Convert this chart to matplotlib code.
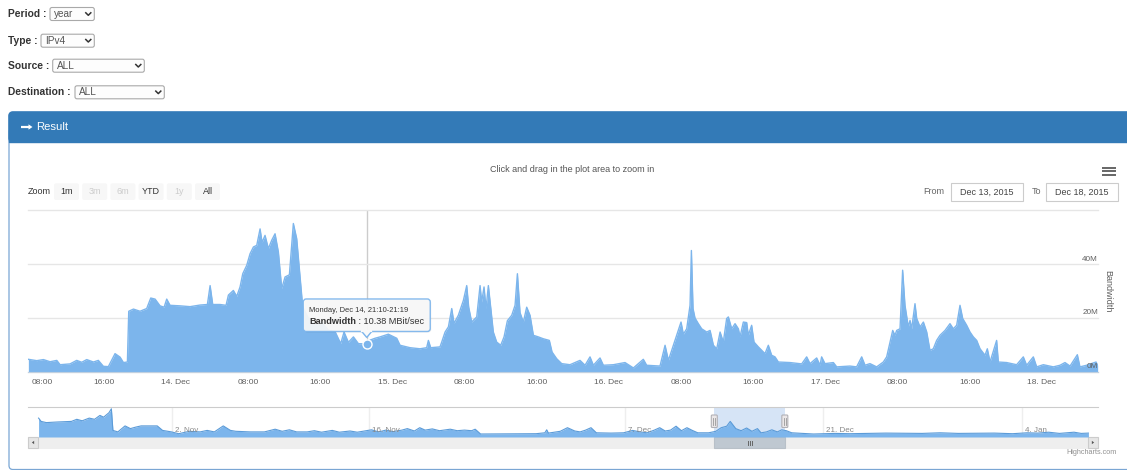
import numpy as np
import matplotlib.pyplot as plt
from matplotlib.patches import FancyBboxPatch, Rectangle, Polygon

plt.rcParams['font.family'] = ['Liberation Sans', 'DejaVu Sans']

# form fields above the result panel
form_labels = ['Period :', 'Type :', 'Source :', 'Destination :']
form_values = ['year', 'IPv4', 'ALL', 'ALL']

# range selector and date inputs
zoom_buttons = ['1m', '3m', '6m', 'YTD', '1y', 'All']
zoom_enabled = [True, False, False, True, False, True]
date_from = 'Dec 13, 2015'
date_to = 'Dec 18, 2015'

# bandwidth in MBit/s, sampled by hour of day
dec13_h = [7.65, 8.58, 9.32, 10.06, 10.8, 11.17, 12.27, 13.01, 13.57, 14.12,
           14.86, 15.41, 15.97, 16.52, 17.26, 17.82, 18.19, 18.56, 18.63, 18.78,
           19.3, 20.03, 20.77, 21.22, 21.7, 22.25, 22.7, 22.99, 23.36]
dec13_bw = [4.7, 4.2, 4.6, 3.8, 4.3, 2.7, 3.0, 4.3, 3.6, 4.6,
            3.7, 4.3, 2.1, 2.0, 6.8, 5.5, 3.5, 3.7, 3.7, 22.5,
            23.3, 22.5, 23.5, 27.4, 27.0, 24.5, 24.0, 27.0, 24.7]

dec14_h = [0.47, 1.58, 2.69, 3.5, 3.8, 4.09, 4.9, 5.57, 5.83, 6.38,
           6.75, 7.12, 7.42, 7.86, 8.23, 8.6, 8.97, 9.34, 9.56, 9.89,
           10.26, 10.63, 11.0, 11.37, 11.74, 12.11, 12.59, 13.03, 13.4, 13.7,
           14.07, 14.7, 15.44, 16.17, 16.91, 17.65, 18.28, 18.65, 19.13, 19.69,
           20.24, 21.17, 21.53, 22.09, 22.64, 23.56]
dec14_bw = [24.5, 24.2, 24.8, 25.0, 32.0, 25.0, 25.0, 24.7, 28.5, 30.2,
            28.0, 31.5, 36.4, 39.5, 43.8, 46.3, 46.9, 53.0, 48.0, 50.6,
            45.7, 48.8, 51.2, 44.4, 30.9, 35.2, 36.0, 55.0, 49.4, 38.0,
            24.0, 20.0, 17.5, 18.5, 15.5, 15.0, 10.5, 14.8, 11.0, 13.0,
            10.5, 10.38, 11.8, 12.5, 13.0, 14.0]

dec15_h = [0.49, 0.86, 1.97, 3.07, 3.81, 4.0, 4.26, 5.29, 5.48, 5.85,
           6.22, 6.59, 6.84, 7.32, 7.88, 8.25, 8.47, 8.8, 9.36, 9.73,
           9.91, 10.17, 10.39, 10.65, 10.91, 11.2, 11.57, 12.02, 12.39, 12.76,
           13.24, 13.61, 13.87, 14.16, 14.53, 14.9, 15.27, 15.64, 16.19, 16.75,
           17.41, 17.71, 18.23, 18.78, 19.7, 20.81, 21.37, 21.92, 22.29, 23.03,
           23.4]
dec15_bw = [12.5, 9.9, 9.0, 8.6, 9.0, 11.7, 9.0, 9.3, 11.1, 14.8,
            16.7, 23.5, 18.0, 21.0, 26.5, 32.0, 24.0, 18.5, 20.4, 32.0,
            25.9, 31.5, 23.5, 32.0, 24.0, 14.8, 11.1, 9.9, 13.0, 19.0,
            21.0, 24.7, 36.4, 22.0, 18.5, 24.0, 21.0, 13.6, 13.0, 12.3,
            11.7, 7.4, 4.9, 3.1, 2.7, 4.3, 2.5, 5.6, 2.5, 5.2,
            2.5]

dec16_h = [0.51, 1.8, 2.73, 3.83, 4.2, 5.68, 6.24, 6.61, 7.16, 7.53,
           8.01, 8.27, 8.64, 9.01, 9.16, 9.34, 9.56, 9.93, 10.3, 10.86,
           11.23, 11.6, 11.97, 12.34, 12.7, 13.07, 13.26, 13.63, 14.0, 14.37,
           14.55, 14.92, 15.29, 15.47, 15.84, 16.1, 16.58, 17.32, 17.69, 18.06,
           18.43, 18.8, 20.09, 21.39, 21.94, 22.31, 23.05, 23.42, 23.6, 23.97]
dec16_bw = [2.7, 3.5, 1.5, 4.7, 2.5, 2.2, 9.9, 4.3, 9.9, 13.6,
            18.5, 14.0, 16.0, 24.7, 45.0, 23.5, 20.0, 17.9, 16.0, 14.8,
            15.4, 9.9, 8.6, 14.8, 11.1, 19.8, 20.4, 16.0, 17.9, 16.0,
            13.0, 18.5, 18.3, 13.6, 17.3, 11.1, 9.3, 6.8, 9.9, 6.2,
            5.6, 3.7, 3.5, 3.0, 5.6, 3.1, 5.2, 2.5, 5.6, 3.1]

dec17_h = [0.9, 1.27, 2.74, 3.48, 4.04, 4.41, 4.96, 5.7, 6.44, 6.81,
           7.18, 7.48, 7.73, 7.92, 8.29, 8.58, 8.84, 9.21, 9.4, 9.58,
           9.95, 10.14, 10.51, 10.88, 11.25, 11.61, 11.98, 12.35, 12.72, 13.28,
           13.83, 14.2, 14.57, 14.94, 15.24, 15.68, 16.05, 16.42, 16.79, 17.16,
           17.71, 17.97, 18.27, 19.0, 19.19, 20.11, 21.22, 21.96, 22.33, 23.07,
           23.44]
dec17_bw = [3.5, 1.9, 2.2, 1.9, 5.6, 2.5, 3.1, 1.9, 3.7, 5.6,
            11.1, 15.4, 13.6, 15.4, 16.0, 37.7, 24.7, 16.7, 19.1, 16.0,
            25.3, 19.8, 16.7, 18.5, 14.8, 8.0, 8.6, 11.7, 13.6, 15.4,
            17.9, 16.0, 17.3, 24.7, 19.8, 17.3, 14.8, 13.0, 11.7, 8.6,
            6.2, 8.6, 3.7, 11.7, 3.7, 3.5, 2.7, 5.6, 2.5, 5.6,
            1.9]

dec18_h = [0.18, 1.29, 2.03, 2.58, 3.14, 3.95, 4.24, 4.98, 6.02, 6.2]
dec18_bw = [2.7, 1.9, 2.5, 3.5, 2.2, 6.4, 1.9, 2.5, 3.7, 2.5]

day_start = [0, 24, 48, 72, 96, 120]   # hours after Dec 13 00:00
view_range = (7.61, 126.24)

tick_hours = [8, 16, 24, 32, 40, 48, 56, 64, 72, 80, 88, 96, 104, 112, 120]
tick_labels = ['08:00', '16:00', '14. Dec', '08:00', '16:00', '15. Dec',
               '08:00', '16:00', '16. Dec', '08:00', '16:00', '17. Dec',
               '08:00', '16:00', '18. Dec']
y_ticks = [0, 20, 40, 60]
y_labels = ['0M', '20M', '40M', '']

# hovered point
tip_hour = 24 + 21 + 10 / 60
tip_value = 10.38
tip_title = 'Monday, Dec 14, 21:10-21:19'

# navigator (ordinal day index, averaged MBit/s)
nav_pos = [0.0, 0.18, 0.55, 1.31, 2.33, 2.71, 3.09, 3.59, 3.97, 4.35,
           4.61, 4.99, 5.16, 5.27, 5.62, 6.13, 6.51, 6.89, 7.27, 8.41,
           8.79, 9.42, 9.93, 10.69, 11.45, 11.95, 12.46, 13.09, 13.6, 13.98,
           14.99, 16.01, 16.77, 17.27, 17.78, 18.29, 19.04, 19.55, 20.06, 20.82,
           21.32, 22.08, 22.59, 23.1, 23.6, 24.11, 24.62, 25.12, 25.76, 26.14,
           26.64, 27.02, 27.4, 27.91, 28.42, 29.18, 29.68, 30.19, 30.7, 30.95,
           31.33, 35.26, 35.89, 36.02, 36.14,
           36.98, 37.49, 38.01, 38.39, 38.78, 39.16, 39.54, 40.57, 41.47, 42.11,
           42.62, 43.14, 43.65, 44.03, 44.42, 44.8, 45.19, 45.57, 45.96, 46.34,
           46.73, 47.5, 48.01, 48.39, 48.78, 49.03, 49.42, 49.8, 50.19, 50.57,
           50.96, 51.21, 51.6, 51.98, 52.37, 52.68, 53.01, 53.39, 54.93, 56.47,
           57.5, 60.06, 62.63, 63.91, 65.19, 67.76, 69.04, 70.07, 70.84, 71.6,
           72.37, 73.4, 73.91, 74.42]
nav_bw = [25.2, 20.8, 19.2, 20.0, 20.8, 23.6, 21.6, 25.2, 23.6, 28.8,
          26.4, 32.4, 37.6, 8.8, 6.8, 14.8, 11.2, 13.2, 14.8, 14.8,
          8.8, 6.8, 4.4, 7.6, 6.8, 8.8, 6.8, 14.8, 8.8, 7.6,
          6.8, 6.8, 10.4, 7.6, 9.6, 6.8, 6.8, 8.4, 6.4, 8.8,
          6.4, 8.0, 6.4, 8.0, 9.6, 6.8, 9.2, 7.2, 9.2, 11.2,
          8.0, 12.4, 9.2, 10.8, 8.4, 10.4, 8.4, 9.2, 8.4, 10.4,
          4.0, 4.4, 5.6, 9.6, 5.2,
          7.6, 12.4, 8.0, 6.8, 9.2, 12.4, 5.6, 5.2, 5.6, 8.8,
          6.8, 5.6, 9.2, 12.4, 8.0, 9.2, 14.4, 8.4, 12.4, 8.8,
          5.6, 5.6, 7.6, 12.4, 14.4, 20.8, 11.2, 8.4, 12.0, 7.6,
          11.2, 5.6, 6.8, 9.6, 6.8, 9.6, 8.4, 5.6, 4.0, 4.8,
          4.4, 5.2, 4.8, 5.6, 4.8, 5.2, 4.4, 5.6, 5.2, 6.4,
          4.8, 6.4, 4.8, 5.2]
nav_range = (-0.75, 75.1)
nav_tick_pos = [9.46, 23.4, 41.6, 55.6, 69.7]
nav_tick_labels = ['2. Nov', '16. Nov', '7. Dec', '21. Dec', '4. Jan']
nav_selection = (47.9, 52.9)

hours = np.concatenate([s + np.array(h) for s, h in
                        zip(day_start, [dec13_h, dec14_h, dec15_h, dec16_h, dec17_h, dec18_h])])
bw = np.concatenate([dec13_bw, dec14_bw, dec15_bw, dec16_bw, dec17_bw, dec18_bw])

W, H = 1127, 470
fig = plt.figure(figsize=(W / 100, H / 100), dpi=100, facecolor='white')


def rect(x0, y0, x1, y1):
    return [x0 / W, 1 - y1 / H, (x1 - x0) / W, (y1 - y0) / H]


def overlay(z):
    o = fig.add_axes([0, 0, 1, 1], zorder=z)
    o.set_xlim(0, W)
    o.set_ylim(H, 0)
    o.axis('off')
    o.patch.set_alpha(0)
    return o


bg = overlay(0)
fg = overlay(5)

# form
label_y = [14, 40.7, 65.7, 92.3]
select_x = [(50, 94.3), (41, 94.3), (52.7, 144.3), (75, 164.3)]
for lab, val, yc, (x0, x1) in zip(form_labels, form_values, label_y, select_x):
    bg.text(8, yc, lab, fontsize=7.4, fontweight='bold', color='#333333', va='center')
    bg.add_patch(FancyBboxPatch((x0, yc - 6.5), x1 - x0, 13, boxstyle='round,pad=0,rounding_size=2',
                                fc='#fdfdfd', ec='#a9a9a9', lw=0.8))
    bg.text(x0 + 4, yc, val, fontsize=7.2, color='#555555', va='center')
    bg.plot([x1 - 8.5, x1 - 6, x1 - 3.5], [yc - 1.2, yc + 1.3, yc - 1.2], color='#333333', lw=1.1)

# panel + header
bg.add_patch(FancyBboxPatch((9, 112), W, 357.5, boxstyle='round,pad=0,rounding_size=4',
                            fc='white', ec='#7aa6d4', lw=0.9))
bg.add_patch(FancyBboxPatch((9, 112), W, 30, boxstyle='round,pad=0,rounding_size=4',
                            fc='#337ab7', ec='#337ab7', lw=1))
bg.add_patch(Rectangle((9, 130), W, 12, fc='#337ab7', ec='#337ab7', lw=1))
bg.plot([20.5, 29], [127, 127], color='white', lw=1.6, solid_capstyle='butt')
bg.add_patch(Polygon([(32.5, 127), (28.5, 124.3), (28.5, 129.7)], fc='white', ec='none'))
bg.text(36, 127, 'Result', fontsize=8.1, color='white', va='center')

# chart header
bg.text(572, 169, 'Click and drag in the plot area to zoom in', fontsize=6.5,
        color='#555555', ha='center', va='center')
for yb in [167.5, 171, 174.5]:
    bg.plot([1102.3, 1116], [yb, yb], color='#666666', lw=1.4, solid_capstyle='butt')

bg.text(28, 191.5, 'Zoom', fontsize=6.5, color='#333333', va='center')
for i, (lab, on) in enumerate(zip(zoom_buttons, zoom_enabled)):
    bx = 54 + i * 28.2
    bg.add_patch(FancyBboxPatch((bx, 183.3), 25, 16.7, boxstyle='round,pad=0,rounding_size=2',
                                fc='#f7f7f7', ec='none'))
    bg.text(bx + 12.5, 191.8, lab, fontsize=6.5, color='#333333' if on else '#cccccc',
            ha='center', va='center')

bg.text(944, 192, 'From', fontsize=6.5, color='#666666', ha='right', va='center')
bg.text(1036, 192, 'To', fontsize=6.5, color='#666666', ha='center', va='center')
for x0, txt in [(950.7, date_from), (1045.7, date_to)]:
    bg.add_patch(Rectangle((x0, 183.3), 72, 17.4, fc='white', ec='#cccccc', lw=0.8))
    bg.text(x0 + 36, 192, txt, fontsize=6.5, color='#444444', ha='center', va='center')

# main chart
ax = fig.add_axes(rect(28, 210, 1098, 372), zorder=2)
ax.set_facecolor('none')
ax.fill_between(hours, bw, color='#7cb5ec', lw=0, zorder=2)
ax.plot(hours, bw, color='#7cb5ec', lw=1, zorder=3)
ax.set_xlim(*view_range)
ax.set_ylim(y_ticks[0], y_ticks[-1])
ax.set_yticks(y_ticks)
ax.yaxis.grid(True, color='#e6e6e6', lw=1)
for gl in ax.get_ygridlines():
    gl.set_clip_on(False)
ax.tick_params(axis='y', length=0, labelleft=False)
for s in ['left', 'right', 'top']:
    ax.spines[s].set_visible(False)
ax.spines['bottom'].set_color('#c0d0e0')
ax.set_xticks(tick_hours, tick_labels)
ax.tick_params(axis='x', length=0, pad=5, labelsize=6.0, labelcolor='#606060')
ax.get_xticklabels()[0].set_ha('left')
for v, lab in zip(y_ticks, y_labels):
    ax.annotate(lab, xy=(1, v), xycoords=ax.get_yaxis_transform(), xytext=(0, 1.5),
                textcoords='offset pixels', ha='right', va='bottom', fontsize=5.9,
                color='#606060', zorder=6)
ax.annotate('Bandwidth', xy=(1, 0.5), xycoords='axes fraction', xytext=(10, 0),
            textcoords='offset pixels', rotation=-90, ha='center', va='center',
            fontsize=6.5, color='#606060', annotation_clip=False)

ax.axvline(tip_hour, color='#cccccc', lw=1, zorder=1)
ax.plot(tip_hour, tip_value, 'o', ms=6.5, mfc='#7cb5ec', mec='white', mew=1, zorder=6)

# tooltip
px, py = ax.transData.transform((tip_hour, tip_value))
py = H - py
left, top, tw, th = px - 63.5, py - 45, 127, 32.5
fg.add_patch(FancyBboxPatch((left + 1, top + 1), tw, th, boxstyle='round,pad=0,rounding_size=3',
                            fc='black', ec='none', alpha=0.08))
fg.add_patch(FancyBboxPatch((left, top), tw, th, boxstyle='round,pad=0,rounding_size=3',
                            fc='#f9f9f9', ec='#7cb5ec', lw=1, alpha=0.92))
fg.add_patch(Polygon([(px - 5, top + th), (px, top + th + 6), (px + 5, top + th)],
                     closed=False, fc='#f9f9f9', ec='#7cb5ec', lw=1))
fg.plot([px - 4.3, px + 4.3], [top + th, top + th], color='#f9f9f9', lw=1.6)
fg.text(left + 6, top + 11.5, tip_title, fontsize=5.4, color='#333333', va='center')
t1 = fg.text(left + 6, top + 23, 'Bandwidth', fontsize=6.6, fontweight='bold',
             color='#333333', va='center')
fg.annotate(f' : {tip_value:.2f} MBit/sec', xy=(1, 0.5), xycoords=t1, fontsize=6.6,
            color='#333333', va='center', ha='left')

# navigator
nav = fig.add_axes(rect(28, 407, 1098, 437), zorder=2)
nav.set_facecolor('none')
nav.axvspan(*nav_selection, color='#d6e4f6', lw=0, zorder=0)
nav.fill_between(nav_pos, nav_bw, color='#7cb5ec', lw=0, zorder=2)
nav.plot(nav_pos, nav_bw, color='#5b9bd8', lw=0.8, zorder=3)
nav.set_xlim(*nav_range)
nav.set_ylim(0, 40)
nav.set_xticks(nav_tick_pos)
nav.set_yticks([])
nav.xaxis.grid(True, color='#eeeeee', lw=1)
nav.set_axisbelow(True)
nav.tick_params(axis='x', length=0, labelbottom=False)
for s in ['left', 'right', 'bottom']:
    nav.spines[s].set_visible(False)
nav.spines['top'].set_color('#cccccc')
for p, lab in zip(nav_tick_pos, nav_tick_labels):
    nav.annotate(lab, xy=(p, 0), xycoords=nav.get_xaxis_transform(), xytext=(3, 2.5),
                 textcoords='offset pixels', ha='left', va='bottom', fontsize=5.8,
                 color='#888888', zorder=4)

# scrollbar
sx0 = nav.transData.transform((nav_selection[0], 0))[0]
sx1 = nav.transData.transform((nav_selection[1], 0))[0]
bg.add_patch(Rectangle((28, 437), 1070, 11, fc='#eeeeee', ec='#eeeeee', lw=0.8))
for bx, d in [(28, -1), (1087.7, 1)]:
    bg.add_patch(Rectangle((bx, 437), 10.3, 11, fc='#e6e6e6', ec='#cccccc', lw=0.8))
    cx = bx + 5.15
    bg.add_patch(Polygon([(cx + 1.3 * d, 442.5), (cx - 1 * d, 440.8), (cx - 1 * d, 444.2)],
                         fc='#555555', ec='none'))
bg.add_patch(Rectangle((sx0, 437), sx1 - sx0, 11, fc='#bfc8d1', ec='#b8c0c8', lw=0.8))
mid = (sx0 + sx1) / 2
for dx in [-2, 0, 2]:
    bg.plot([mid + dx, mid + dx], [440.5, 444.5], color='#666666', lw=0.7)

# navigator handles
for hx in [sx0, sx1]:
    fg.add_patch(FancyBboxPatch((hx - 3, 415), 6, 12.5, boxstyle='round,pad=0,rounding_size=1',
                                fc='#ebe7e8', ec='#b2b1b6', lw=0.8))
    for dx in [-0.8, 0.8]:
        fg.plot([hx + dx, hx + dx], [418, 424.5], color='#999999', lw=0.6)

bg.text(1117, 452.7, 'Highcharts.com', fontsize=5.2, color='#909090', ha='right', va='center')

fig.savefig('out.png', dpi=100, facecolor='white')
